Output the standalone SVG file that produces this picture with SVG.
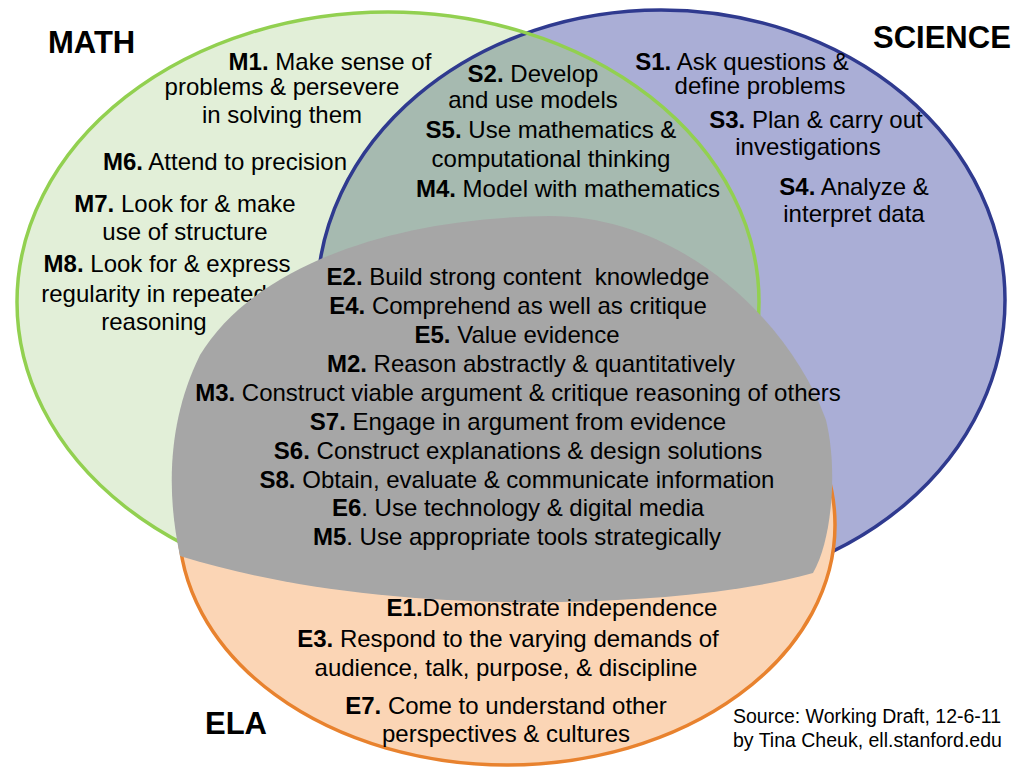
<svg xmlns="http://www.w3.org/2000/svg" width="1024" height="768" viewBox="0 0 1024 768">
<style>
text{font-family:"Liberation Sans",Arial,sans-serif;font-size:24px;fill:#000}
.c{text-anchor:middle}
.t{font-size:31px;font-weight:bold}
.s{font-size:19.5px}
b,.b{font-weight:bold}
</style>
<defs>
<clipPath id="clipMath"><ellipse cx="388" cy="302" rx="371" ry="290"/></clipPath>
</defs>
<rect width="1024" height="768" fill="#ffffff"/>
<g id="math-set">
<ellipse cx="388" cy="302" rx="371" ry="290" fill="#e2efd8"/>
</g>
<g id="science-set">
<ellipse cx="661" cy="300" rx="344" ry="290" fill="#aaaed6"/>
<ellipse cx="661" cy="300" rx="344" ry="290" fill="#a6bab0" clip-path="url(#clipMath)"/>
<ellipse cx="661" cy="300" rx="344" ry="290" fill="none" stroke="#2f3a8f" stroke-width="3.5"/>
</g>
<ellipse cx="388" cy="302" rx="371" ry="290" fill="none" stroke="#92d050" stroke-width="3.5"/>
<g id="ela-set">
<ellipse cx="507" cy="525" rx="328" ry="240" fill="#fbd5b5" stroke="#e8822e" stroke-width="3.5"/>
</g>
<g id="math-text">
<text x="48" y="53" class="t">MATH</text>
<text x="330" y="70" class="c"><tspan class="b">M1.</tspan> Make sense of</text>
<text x="282" y="95" class="c">problems &amp; persevere</text>
<text x="282" y="123" class="c">in solving them</text>
<text x="225" y="170" class="c"><tspan class="b">M6.</tspan> Attend to precision</text>
<text x="185" y="212" class="c"><tspan class="b">M7.</tspan> Look for &amp; make</text>
<text x="185" y="240" class="c">use of structure</text>
<text x="167" y="272" class="c"><tspan class="b">M8.</tspan> Look for &amp; express</text>
<text x="154" y="302" class="c">regularity in repeated</text>
<text x="154" y="330" class="c">reasoning</text>
</g>
<g id="science-text">
<text x="873" y="48" class="t">SCIENCE</text>
<text x="742" y="70" class="c"><tspan class="b">S1.</tspan> Ask questions &amp;</text>
<text x="760" y="94" class="c">define problems</text>
<text x="816" y="128" class="c"><tspan class="b">S3.</tspan> Plan &amp; carry out</text>
<text x="808" y="155" class="c">investigations</text>
<text x="854" y="195" class="c"><tspan class="b">S4.</tspan> Analyze &amp;</text>
<text x="854" y="222" class="c">interpret data</text>
</g>
<g id="math-science-overlap">
<text x="533" y="82" class="c"><tspan class="b">S2.</tspan> Develop</text>
<text x="533" y="108" class="c">and use models</text>
<text x="551" y="138" class="c"><tspan class="b">S5.</tspan> Use mathematics &amp;</text>
<text x="551" y="167" class="c">computational thinking</text>
<text x="568" y="197" class="c"><tspan class="b">M4.</tspan> Model with mathematics</text>
</g>
<g id="center-overlap">
<path d="M180,556 C166,490 168,420 200,355 C250,272 380,218 550,216 C680,216 790,320 826,420 C838,470 832,540 813,573 C740,593 650,600 560,602 C420,604 290,590 180,556 Z" fill="#a6a6a6"/>
<text x="518" y="285" class="c" xml:space="preserve"><tspan class="b">E2.</tspan> Build strong content  knowledge</text>
<text x="518" y="314" class="c"><tspan class="b">E4.</tspan> Comprehend as well as critique</text>
<text x="517" y="343" class="c"><tspan class="b">E5.</tspan> Value evidence</text>
<text x="531" y="372" class="c"><tspan class="b">M2.</tspan> Reason abstractly &amp; quantitatively</text>
<text x="518" y="401" class="c"><tspan class="b">M3.</tspan> Construct viable argument &amp; critique reasoning of others</text>
<text x="518" y="430" class="c"><tspan class="b">S7.</tspan> Engage in argument from evidence</text>
<text x="518" y="459" class="c"><tspan class="b">S6.</tspan> Construct explanations &amp; design solutions</text>
<text x="517" y="488" class="c"><tspan class="b">S8.</tspan> Obtain, evaluate &amp; communicate information</text>
<text x="518" y="516" class="c"><tspan class="b">E6</tspan>. Use technology &amp; digital media</text>
<text x="517" y="545" class="c"><tspan class="b">M5</tspan>. Use appropriate tools strategically</text>
</g>
<g id="ela-text">
<text x="552" y="616" class="c"><tspan class="b">E1.</tspan>Demonstrate independence</text>
<text x="508" y="647" class="c"><tspan class="b">E3.</tspan> Respond to the varying demands of</text>
<text x="506" y="676" class="c">audience, talk, purpose, &amp; discipline</text>
<text x="506" y="714" class="c"><tspan class="b">E7.</tspan> Come to understand other</text>
<text x="506" y="742" class="c">perspectives &amp; cultures</text>
<text x="205" y="734" class="t">ELA</text>
</g>
<g id="source">
<text x="733" y="723" class="s">Source: Working Draft, 12-6-11</text>
<text x="733" y="747" class="s">by Tina Cheuk, ell.stanford.edu</text>
</g>
</svg>
